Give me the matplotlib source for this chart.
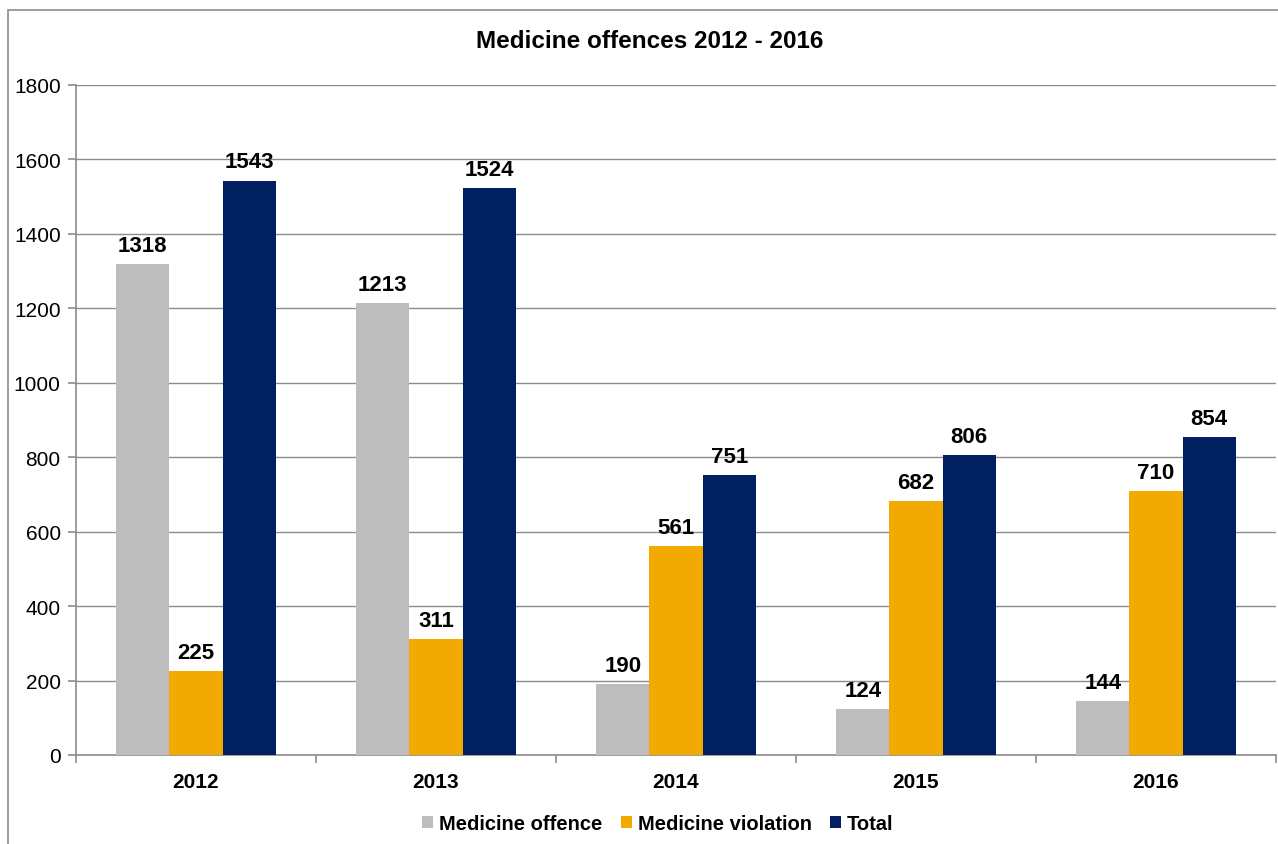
import matplotlib
matplotlib.use("Agg")
import matplotlib.pyplot as plt
from matplotlib.patches import Rectangle
import numpy as np

years = ["2012", "2013", "2014", "2015", "2016"]
series_names = ["Medicine offence", "Medicine violation", "Total"]
offence = [1318, 1213, 190, 124, 144]
violation = [225, 311, 561, 682, 710]
total = [1543, 1524, 751, 806, 854]
colors = ["#BCBDBC", "#F2A900", "#002060"]
title = "Medicine offences 2012 - 2016"

plt.rcParams['font.family'] = ['Liberation Sans', 'DejaVu Sans']

fig = plt.figure(figsize=(12.78, 8.45), dpi=100)
ax = fig.add_axes([76/1278, 1-756/845, 1200/1278, 670/845])

# outer border
fig.patches.append(Rectangle((8/1278, -0.05), 1.2, 1-11/845+0.05, transform=fig.transFigure,
                             fill=False, edgecolor="#8c8c8c", linewidth=1.2))

x = np.arange(len(years))
w = 0.222
for i, (vals, c, name) in enumerate(zip([offence, violation, total], colors, series_names)):
    bars = ax.bar(x + (i - 1) * w, vals, w, color=c, label=name, zorder=3)
    for b, v in zip(bars, vals):
        ax.text(b.get_x() + b.get_width()/2, v + 22, str(v), ha="center", va="bottom",
                fontsize=16, fontweight="bold", color="black")

ax.set_xlim(-0.5, len(years) - 0.5)
ax.set_ylim(0, 1800)
ax.set_yticks(range(0, 1801, 200))
ax.yaxis.grid(True, color="#8c8c8c", linewidth=1, zorder=0)
ax.set_axisbelow(True)
for s in ["top", "right"]:
    ax.spines[s].set_visible(False)
for s in ["left", "bottom"]:
    ax.spines[s].set_color("#8c8c8c")
    ax.spines[s].set_linewidth(1.2)

ax.set_xticks(np.arange(-0.5, len(years), 1.0))
ax.set_xticklabels([])
ax.set_xticks(x, minor=True)
ax.set_xticklabels(years, minor=True, fontsize=15, fontweight="bold")
ax.tick_params(axis="x", which="major", length=6, color="#8c8c8c", width=1.2)
ax.tick_params(axis="x", which="minor", length=0, pad=12)
ax.tick_params(axis="y", length=6, color="#8c8c8c", width=1.2, labelsize=15, pad=5)

fig.text(650/1278, 1-42/845, title, ha="center", va="center", fontsize=17.5, fontweight="bold")

leg = ax.legend(loc="center", bbox_to_anchor=(658/1278, 1-825/845), bbox_transform=fig.transFigure,
                ncol=3, frameon=False, handlelength=0.55, handleheight=0.55,
                handletextpad=0.3, columnspacing=0.9, prop={"weight": "bold", "size": 14.5})

fig.savefig("out.png", dpi=100)
